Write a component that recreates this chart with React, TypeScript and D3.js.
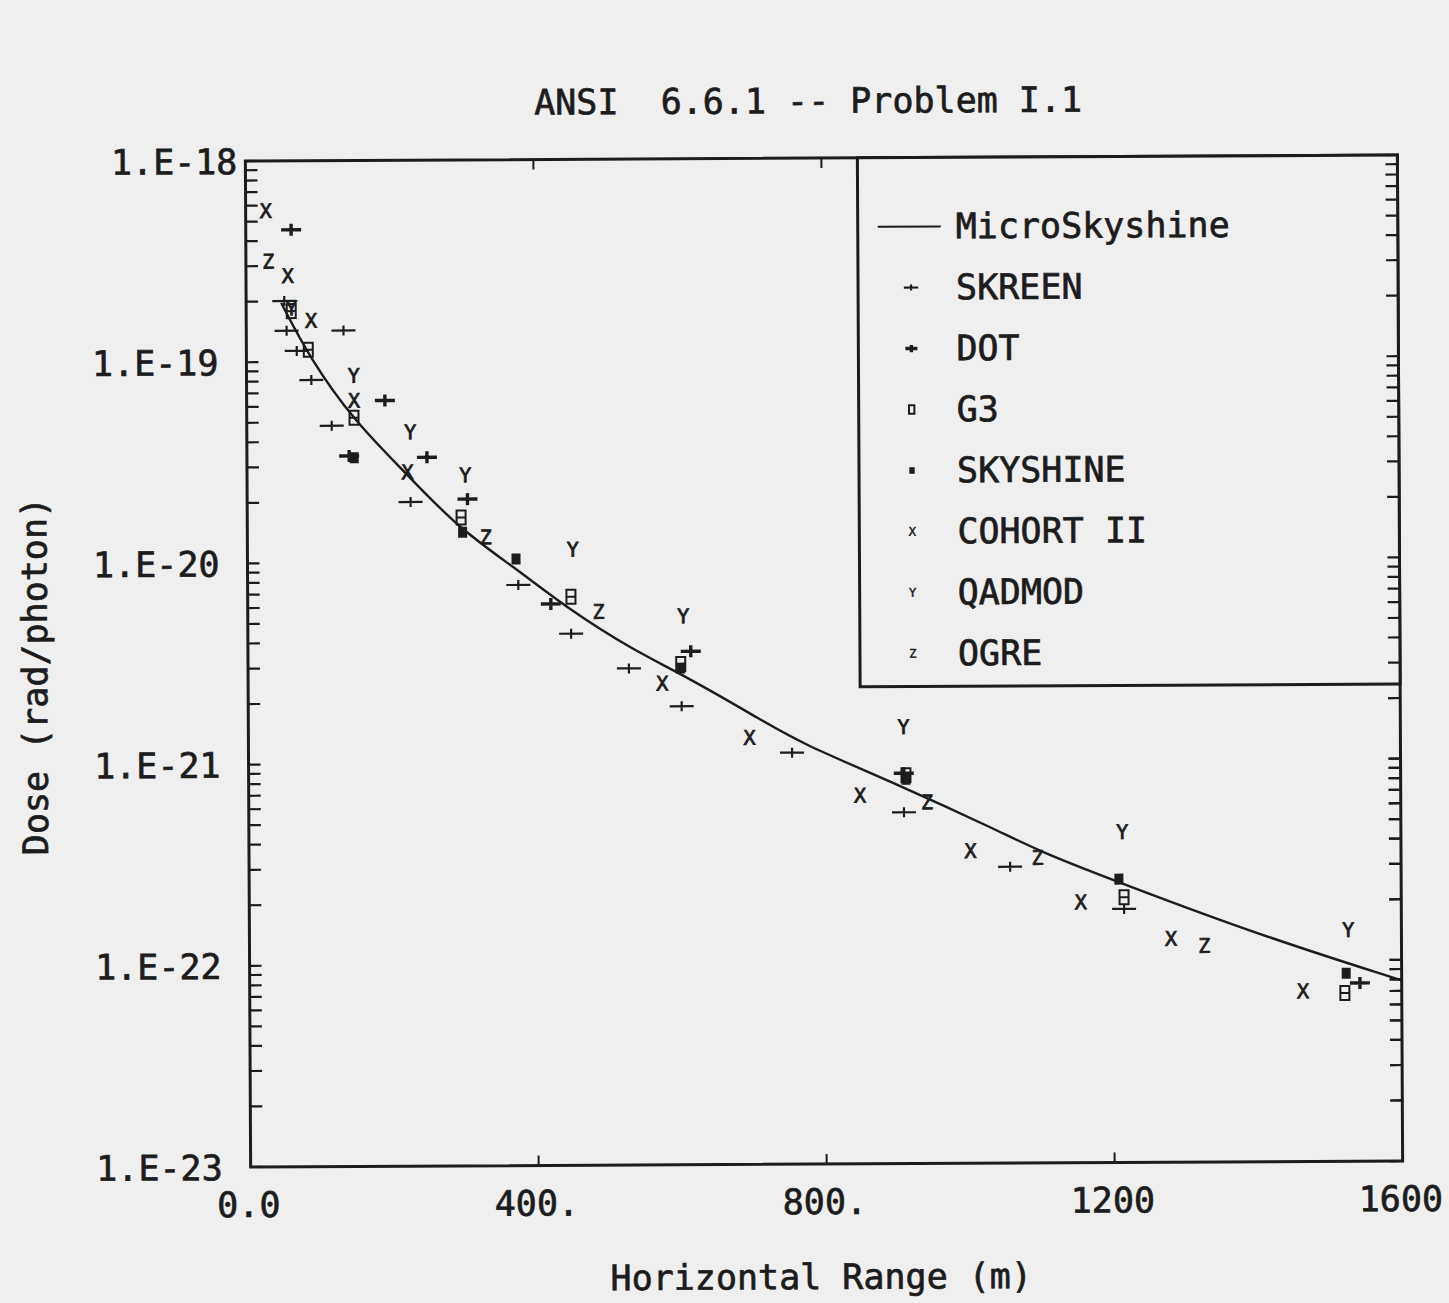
import React from 'react';
import * as d3 from 'd3';

// ---------- data ----------
const xTicks = [0, 400, 800, 1200, 1600];
const xTickLabels = ['0.0', '400.', '800.', '1200', '1600'];
const yDecades = [1e-18, 1e-19, 1e-20, 1e-21, 1e-22, 1e-23];
const yTickLabels = ['1.E-18', '1.E-19', '1.E-20', '1.E-21', '1.E-22', '1.E-23'];

const microDist = [48.7, 87.7, 148.9, 222.6, 292, 375.7, 441, 533, 608, 709.6, 765, 904, 1043.5, 1099, 1210, 1405, 1600];
const microDose = [1.97e-19, 1.05e-19, 5.08e-20, 2.74e-20, 1.49e-20, 9.12e-21, 5.97e-21, 3.65e-21, 2.68e-21, 1.64e-21, 1.245e-21, 7.6e-22, 4.44e-22, 3.52e-22, 2.45e-22, 1.33e-22, 7.9e-23];

const skreenDist = [53, 56, 70, 90, 118, 135, 227, 376, 449, 529, 602, 755, 910, 1057, 1215];
const skreenDose = [2.01e-19, 1.43e-19, 1.135e-19, 8.13e-20, 4.81e-20, 1.43e-19, 2.0e-20, 7.69e-21, 4.39e-21, 2.94e-21, 1.9e-21, 1.11e-21, 5.57e-22, 2.97e-22, 1.82e-22];

const dotDist = [63, 142, 192, 250, 306, 421, 615, 910, 1542];
const dotDose = [4.54e-19, 3.4e-20, 6.4e-20, 3.33e-20, 2.06e-20, 6.18e-21, 3.56e-21, 8.71e-22, 7.69e-23];

const g3Dist = [62.6, 86, 149, 297, 449, 601, 913, 1215, 1521];
const g3Dose = [1.79e-19, 1.15e-19, 5.26e-20, 1.67e-20, 6.7e-21, 3.08e-21, 8.51e-22, 2.08e-22, 6.86e-23];

const skyshineDist = [149, 299, 373, 601, 913, 1208, 1523];
const skyshineDose = [3.33e-20, 1.41e-20, 1.035e-20, 2.94e-21, 8.13e-22, 2.56e-22, 8.61e-23];

const cohortDist = [28, 58, 90, 149, 223, 575, 696, 849, 1002, 1155, 1280, 1463];
const cohortDose = [5.64e-19, 2.68e-19, 1.6e-19, 6.4e-20, 2.81e-20, 2.47e-21, 1.32e-21, 6.78e-22, 3.56e-22, 1.97e-22, 1.29e-22, 7.01e-23];

const qadmodDist = [63, 149, 227, 303, 452, 605, 910, 1213, 1526];
const qadmodDose = [1.85e-19, 8.51e-20, 4.44e-20, 2.71e-20, 1.15e-20, 5.32e-21, 1.48e-21, 4.39e-22, 1.41e-22];

const ogreDist = [31, 331, 487, 942, 1095, 1326];
const ogreDose = [3.16e-19, 1.33e-20, 5.64e-21, 6.25e-22, 3.29e-22, 1.19e-22];

const seriesNames = ['SKREEN', 'DOT', 'G3', 'SKYSHINE', 'COHORT II', 'QADMOD', 'OGRE'];
const seriesKeys = ['skreen', 'dot', 'g3', 'skyshine', 'cohort', 'qadmod', 'ogre'];
const seriesDist = [skreenDist, dotDist, g3Dist, skyshineDist, cohortDist, qadmodDist, ogreDist];
const seriesDose = [skreenDose, dotDose, g3Dose, skyshineDose, cohortDose, qadmodDose, ogreDose];

const INK = '#1c1c1c';
const FONT = '"DejaVu Sans Mono", "Liberation Mono", monospace';
const TXT = { fontFamily: FONT, fill: INK, stroke: INK, strokeWidth: 0.7 } as const;

function Marker({ type, cx, cy, s }: { type: string; cx: number; cy: number; s: number }) {
  switch (type) {
    case 'skreen':
      return (
        <path d={`M${cx - 12 * s},${cy}H${cx + 12 * s}M${cx},${cy - 5 * s}V${cy + 5 * s}`} stroke={INK} strokeWidth={2.2} fill="none" />
      );
    case 'dot':
      return (
        <path d={`M${cx - 10 * s},${cy}H${cx + 10 * s}M${cx},${cy - 6 * s}V${cy + 6 * s}`} stroke={INK} strokeWidth={3.4} fill="none" />
      );
    case 'g3':
      return (
        <g stroke={INK} strokeWidth={2} fill="none">
          <rect x={cx - 4.5 * s} y={cy - 7 * s} width={9 * s} height={14 * s} />
          {s > 0.8 && <line x1={cx - 4.5 * s} x2={cx + 4.5 * s} y1={cy} y2={cy} />}
        </g>
      );
    case 'skyshine':
      return <rect x={cx - 4.5 * s} y={cy - 5.5 * s} width={9 * s} height={11 * s} fill={INK} />;
    default: {
      const ch = type === 'cohort' ? 'X' : type === 'qadmod' ? 'Y' : 'Z';
      return (
        <text x={cx} y={cy + 7 * s} fontSize={20 * s} textAnchor="middle" {...TXT} strokeWidth={0.8 * s}>
          {ch}
        </text>
      );
    }
  }
}

export default function App() {
  const W = 1449;
  const H = 1303;
  const L = 248, R = 1400, T = 158, B = 1164;
  const x = d3.scaleLinear().domain([0, 1600]).range([L, R]);
  const y = d3.scaleLog().domain([1e-23, 1e-18]).range([B, T]);

  const line = d3
    .line<number>()
    .x((_, i) => x(microDist[i]))
    .y((_, i) => y(microDose[i]))
    .curve(d3.curveBasis);

  const logTicks: number[] = [];
  for (let e = -23; e < -18; e++) for (let m = 1; m < 10; m++) logTicks.push(m * Math.pow(10, e));
  logTicks.push(1e-18);

  const legL = 860;
  const legB = 687;
  const legRow0 = 227;
  const legStep = 61;

  return (
    <svg width={W} height={H} style={{ position: 'absolute', left: 0, top: 0, background: '#efefef' }}>
      <rect x={0} y={0} width={W} height={H} fill="#efefef" />
      <g transform={`rotate(-0.3, 825, 660)`}>
        {/* title */}
        <text x={811} y={113} fontSize={35} textAnchor="middle" {...TXT} style={{ whiteSpace: 'pre' }}>
          {'ANSI  6.6.1 -- Problem I.1'}
        </text>

        {/* frame */}
        <rect x={L} y={T} width={R - L} height={B - T} fill="none" stroke={INK} strokeWidth={3} />

        {/* y ticks (log) */}
        {logTicks.map((v, i) => (
          <g key={'yt' + i} stroke={INK} strokeWidth={2.2}>
            <line x1={L} x2={L + 12} y1={y(v)} y2={y(v)} />
            <line x1={R} x2={R - 12} y1={y(v)} y2={y(v)} />
          </g>
        ))}

        {/* x ticks */}
        {xTicks.slice(1, -1).map((v) => (
          <g key={'xt' + v} stroke={INK} strokeWidth={2}>
            <line x1={x(v)} x2={x(v)} y1={B} y2={B - 10} />
            <line x1={x(v)} x2={x(v)} y1={T} y2={T + 10} />
          </g>
        ))}

        {/* y tick labels */}
        {yDecades.map((v, i) => (
          <text key={'yl' + i} x={i === 0 ? 240 : 220} y={y(v) + 13} fontSize={35} textAnchor="end" {...TXT}>
            {yTickLabels[i]}
          </text>
        ))}

        {/* x tick labels */}
        {xTicks.map((v, i) => (
          <text key={'xl' + v} x={x(v) - 2} y={1214} fontSize={35} textAnchor="middle" {...TXT}>
            {xTickLabels[i]}
          </text>
        ))}

        {/* axis titles */}
        <text x={818} y={1289} fontSize={35} textAnchor="middle" {...TXT}>
          Horizontal Range (m)
        </text>
        <text transform={`translate(47, 672) rotate(-90)`} fontSize={35} textAnchor="middle" {...TXT}>
          Dose (rad/photon)
        </text>

        {/* MicroSkyshine curve */}
        <path d={line(microDose) || ''} fill="none" stroke={INK} strokeWidth={2.4} />

        {/* data markers */}
        {seriesKeys.map((k, si) =>
          seriesDist[si].map((d, j) => (
            <Marker key={k + j} type={k} cx={x(d)} cy={y(seriesDose[si][j])} s={1} />
          ))
        )}

        {/* legend */}
        <rect x={legL} y={T} width={R - legL} height={legB - T} fill="#efefef" stroke={INK} strokeWidth={3} />
        {logTicks.map((v, i) => (
          <line key={'ry' + i} x1={R} x2={R - 12} y1={y(v)} y2={y(v)} stroke={INK} strokeWidth={2.2} />
        ))}
        <line x1={880} x2={943} y1={legRow0} y2={legRow0} stroke={INK} strokeWidth={2} />
        <text x={958} y={legRow0 + 12} fontSize={35} {...TXT}>
          MicroSkyshine
        </text>
        {seriesNames.map((n, i) => {
          const cy = legRow0 + legStep * (i + 1);
          return (
            <g key={'lg' + n}>
              <Marker type={seriesKeys[i]} cx={913} cy={cy} s={0.6} />
              <text x={958} y={cy + 12} fontSize={35} {...TXT}>
                {n}
              </text>
            </g>
          );
        })}
      </g>
    </svg>
  );
}
